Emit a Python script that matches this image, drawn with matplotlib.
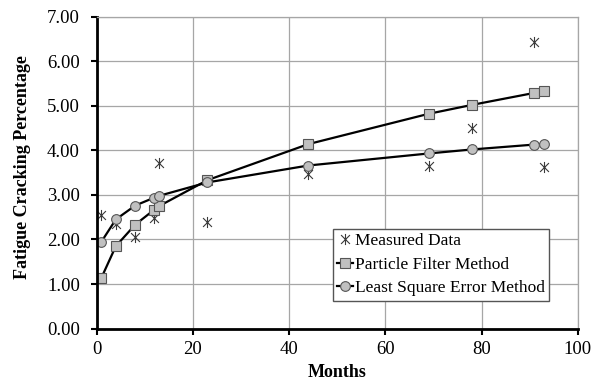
import matplotlib
matplotlib.use("Agg")
import matplotlib.pyplot as plt
from matplotlib.path import Path

months = [1, 4, 8, 12, 13, 23, 44, 69, 78, 91, 93]
measured = [2.54, 2.34, 2.06, 2.49, 3.71, 2.40, 3.48, 3.66, 4.51, 6.44, 3.62]
particle = [1.14, 1.85, 2.33, 2.67, 2.75, 3.33, 4.14, 4.82, 5.02, 5.29, 5.33]
lse = [1.95, 2.45, 2.76, 2.94, 2.98, 3.28, 3.66, 3.93, 4.02, 4.13, 4.14]

plt.rcParams['font.family'] = ['Liberation Serif', 'DejaVu Serif']

# excel-style star: an X with a vertical bar through it
star = Path([(-0.8, -0.8), (0.8, 0.8), (-0.8, 0.8), (0.8, -0.8), (0, -1), (0, 1)],
            [Path.MOVETO, Path.LINETO, Path.MOVETO, Path.LINETO, Path.MOVETO, Path.LINETO])

fig = plt.figure(figsize=(6, 3.79), dpi=100)
ax = fig.add_axes([0.161, 0.133, 0.802, 0.823])

ax.plot(months, measured, linestyle="none", marker=star, markersize=8,
        color="#3a3a3a", markeredgewidth=0.8, label="Measured Data")
ax.plot(months, particle, color="black", linewidth=1.6, marker="s", markersize=7,
        markerfacecolor="#c0c0c0", markeredgecolor="#555555", markeredgewidth=0.8,
        label="Particle Filter Method")
ax.plot(months, lse, color="black", linewidth=1.6, marker="o", markersize=7,
        markerfacecolor="#c0c0c0", markeredgecolor="#555555", markeredgewidth=0.8,
        label="Least Square Error Method")

ax.set_xlim(0, 100)
ax.set_ylim(0, 7)
ax.set_xticks(range(0, 101, 20))
ax.set_yticks(range(0, 8))
ax.set_yticklabels([f"{v:.2f}" for v in range(0, 8)])
ax.grid(True, color="#a6a6a6", linewidth=0.9)
ax.set_axisbelow(True)

for side in ["top", "right"]:
    ax.spines[side].set_color("#a6a6a6")
    ax.spines[side].set_linewidth(0.9)
for side in ["left", "bottom"]:
    ax.spines[side].set_color("black")
    ax.spines[side].set_linewidth(2)
ax.tick_params(direction="out", length=4, width=1.5, labelsize=13.5)
ax.tick_params(axis="y", pad=8)
ax.tick_params(axis="x", pad=5)

ax.set_xlabel("Months", fontsize=13, fontweight="bold")
ax.set_ylabel("Fatigue Cracking Percentage", fontsize=13, fontweight="bold")
ax.xaxis.set_label_coords(0.5, -0.112)
ax.yaxis.set_label_coords(-0.137, 0.518)

leg = ax.legend(loc="lower right", bbox_to_anchor=(0.94, 0.09), fontsize=12.5,
                frameon=True, fancybox=False, edgecolor="#555555", framealpha=1,
                handlelength=0.9, handletextpad=0.1, borderpad=0.25,
                labelspacing=0.42, borderaxespad=0)
leg.get_frame().set_linewidth(1)

fig.savefig("out.png", dpi=100)
